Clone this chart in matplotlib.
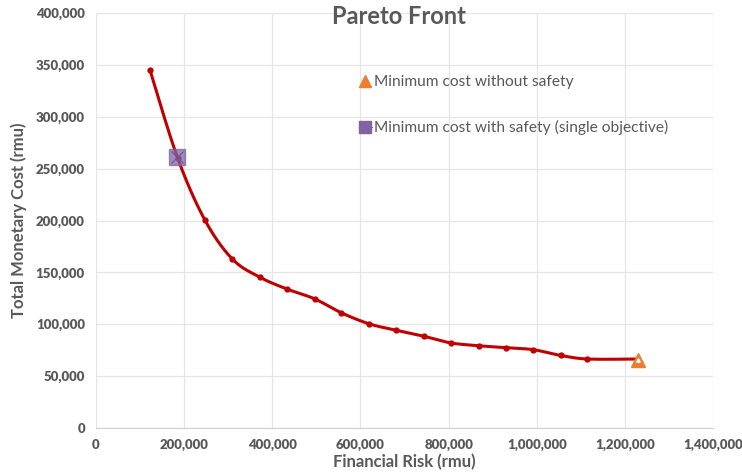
import numpy as np
import matplotlib
matplotlib.use("Agg")
import matplotlib.pyplot as plt
from matplotlib.ticker import FuncFormatter, MultipleLocator
from matplotlib.lines import Line2D

# Pareto front: financial risk vs total monetary cost
risk = [122500, 185000, 247000, 309000, 371000, 433000, 496000, 557000, 619000,
        681000, 744000, 805000, 868000, 930000, 992000, 1054000, 1115000, 1230000]
cost = [345000, 260500, 200500, 163000, 145500, 134000, 124500, 111000, 100500,
        94200, 88400, 82000, 79300, 77400, 75500, 70000, 66500, 66500]

no_safety_risk = [1230000]
no_safety_cost = [66000]
safety_risk = [183000]
safety_cost = [261000]

GREY = "#595959"
plt.rcParams["font.family"] = ["Lato", "DejaVu Sans"]


def smooth(xs, ys, n=30, tension=1 / 6):
    """Cardinal-spline style smoothing through every point."""
    x = np.asarray(xs, float)
    y = np.asarray(ys, float)
    px = np.concatenate([[x[0]], x, [x[-1]]])
    py = np.concatenate([[y[0]], y, [y[-1]]])
    outx, outy = [], []
    t = np.linspace(0, 1, n)
    for i in range(1, len(px) - 2):
        p0 = np.array([px[i], py[i]])
        p3 = np.array([px[i + 1], py[i + 1]])
        p1 = p0 + tension * np.array([px[i + 1] - px[i - 1], py[i + 1] - py[i - 1]])
        p2 = p3 - tension * np.array([px[i + 2] - px[i], py[i + 2] - py[i]])
        b = ((1 - t) ** 3)[:, None] * p0 + (3 * (1 - t) ** 2 * t)[:, None] * p1 \
            + (3 * (1 - t) * t ** 2)[:, None] * p2 + (t ** 3)[:, None] * p3
        outx.extend(b[:, 0])
        outy.extend(b[:, 1])
    return outx, outy


fig = plt.figure(figsize=(7.42, 4.74), dpi=100)
ax = fig.add_axes([96 / 742, 46 / 474, 617 / 742, 415 / 474])

sx, sy = smooth(risk, cost)
ax.plot(sx, sy, color="#C00000", lw=2.2, zorder=3, solid_capstyle="round")
ax.plot(risk[:-1], cost[:-1], "o", color="#C00000", ms=3.5, zorder=4)

ax.plot(no_safety_risk, no_safety_cost, "^", color="#ED7D31", ms=10, zorder=5)
ax.plot(no_safety_risk, no_safety_cost, "^", color="white", ms=2.5, zorder=6)
ax.plot(safety_risk, safety_cost, "s", color="#8064A2", alpha=0.75, ms=11, zorder=5)
ax.plot(safety_risk, safety_cost, "x", color="#6E549A", ms=8, mew=0.8, zorder=6)

ax.set_xlim(0, 1400000)
ax.set_ylim(0, 400000)
ax.xaxis.set_major_locator(MultipleLocator(200000))
ax.yaxis.set_major_locator(MultipleLocator(50000))
fmt = FuncFormatter(lambda v, p: f"{int(v):,}")
ax.xaxis.set_major_formatter(fmt)
ax.yaxis.set_major_formatter(fmt)

ax.grid(True, color="#E6E6E6", lw=0.9)
ax.set_axisbelow(True)
for s in ("top", "right", "left"):
    ax.spines[s].set_visible(False)
ax.spines["bottom"].set_color("#D0D0D0")
ax.tick_params(length=0, colors=GREY, labelsize=9.5, pad=8)
for lab in ax.get_xticklabels() + ax.get_yticklabels():
    lab.set_fontweight("heavy")

ax.set_xlabel("Financial Risk (rmu)", fontsize=12, fontweight="bold", color=GREY, labelpad=2)
ax.set_ylabel("Total Monetary Cost (rmu)", fontsize=12, fontweight="bold", color=GREY, labelpad=6)

fig.text(399 / 742, 1 - 16 / 474, "Pareto Front", ha="center", va="center",
         fontsize=17, fontweight="bold", color=GREY)

handles = [
    Line2D([], [], marker="^", color="#ED7D31", ls="none", ms=9),
    Line2D([0, 1], [0, 0], marker="s", color="#8064A2", ls="-", lw=0.8, ms=8),
]
ax.legend(handles, ["Minimum cost without safety",
                    "Minimum cost with safety (single objective)"],
          loc="upper left", bbox_to_anchor=(257 / 617, 1 - 56 / 415), frameon=False,
          fontsize=11.2, labelcolor=GREY, handlelength=0.8, handletextpad=0.15,
          labelspacing=2.0, borderaxespad=0)

fig.savefig("out.png", dpi=100)
